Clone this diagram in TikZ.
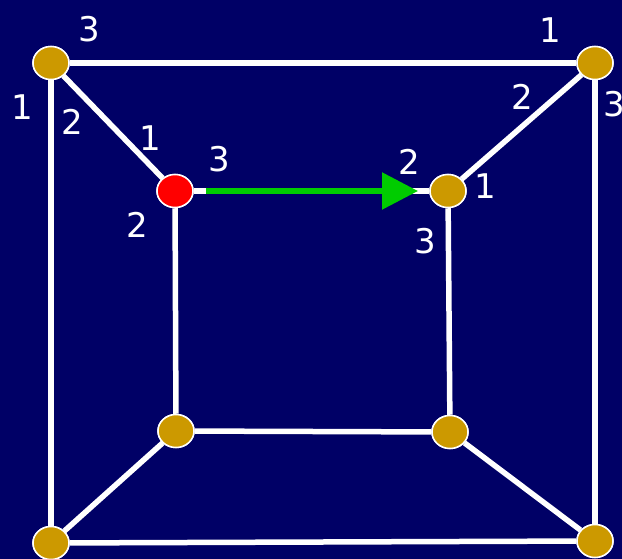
\documentclass[tikz,border=0pt]{standalone}
\usepackage{fontspec}
\setmainfont{DejaVu Sans}
\usetikzlibrary{arrows.meta,shapes.geometric}
\definecolor{navy}{HTML}{000066}
\definecolor{gold}{HTML}{CC9900}
\definecolor{grn}{HTML}{00CC00}
\tikzset{
  vert/.style={ellipse, draw=white, line width=1.5pt, fill=gold, minimum width=36pt, minimum height=33pt, inner sep=0pt},
  redvert/.style={vert, fill=red},
  edge/.style={draw=white, line width=5.5pt},
  lbl/.style={text=white, font=\fontsize{34}{34}\selectfont, inner sep=0pt},
  garrow/.style={draw=grn, line width=5.5pt, -{Triangle[length=36pt,width=36pt]}}
}
\begin{document}
\begin{tikzpicture}[x=1pt,y=-1pt]
\fill[navy] (0,0) rectangle (622,559);
\useasboundingbox (0,0) rectangle (622,559);
\node[vert] (otl) at (51,63) {};
\node[vert] (otr) at (595,63) {};
\node[vert] (obl) at (51,543) {};
\node[vert] (obr) at (595,541) {};
\node[redvert] (itl) at (175,191) {};
\node[vert] (itr) at (448,191) {};
\node[vert] (ibl) at (176,431) {};
\node[vert] (ibr) at (450,432) {};
\path[edge] (otl) -- (otr);
\path[edge] (otl) -- (obl);
\path[edge] (otr) -- (obr);
\path[edge] (obl) -- (obr);
\path[edge] (itl) -- (itr);
\path[edge] (itl) -- (ibl);
\path[edge] (itr) -- (ibr);
\path[edge] (ibl) -- (ibr);
\path[edge] (otl) -- (itl);
\path[edge] (otr) -- (itr);
\path[edge] (obl) -- (ibl);
\path[edge] (obr) -- (ibr);
\coordinate (gs) at (206,191);
\coordinate (ge) at (418,191);
\draw[garrow] (gs) -- (ge);
% redraw nodes on top of the connectors
\node[vert] at (otl) {};
\node[vert] at (otr) {};
\node[vert] at (obl) {};
\node[vert] at (obr) {};
\node[redvert] at (itl) {};
\node[vert] at (itr) {};
\node[vert] at (ibl) {};
\node[vert] at (ibr) {};
% labels
\node[lbl] (l1) at (89,29) {3};
\node[lbl] (l2) at (22,107) {1};
\node[lbl] (l3) at (72,122) {2};
\node[lbl] (l4) at (150,138) {1};
\node[lbl] (l5) at (219,159) {3};
\node[lbl] (l6) at (137,225) {2};
\node[lbl] (l7) at (409,162) {2};
\node[lbl] (l8) at (485,186) {1};
\node[lbl] (l9) at (425,241) {3};
\node[lbl] (l10) at (522,97) {2};
\node[lbl] (l11) at (550,30) {1};
\node[lbl] (l12) at (614,104) {3};
\end{tikzpicture}
\end{document}
